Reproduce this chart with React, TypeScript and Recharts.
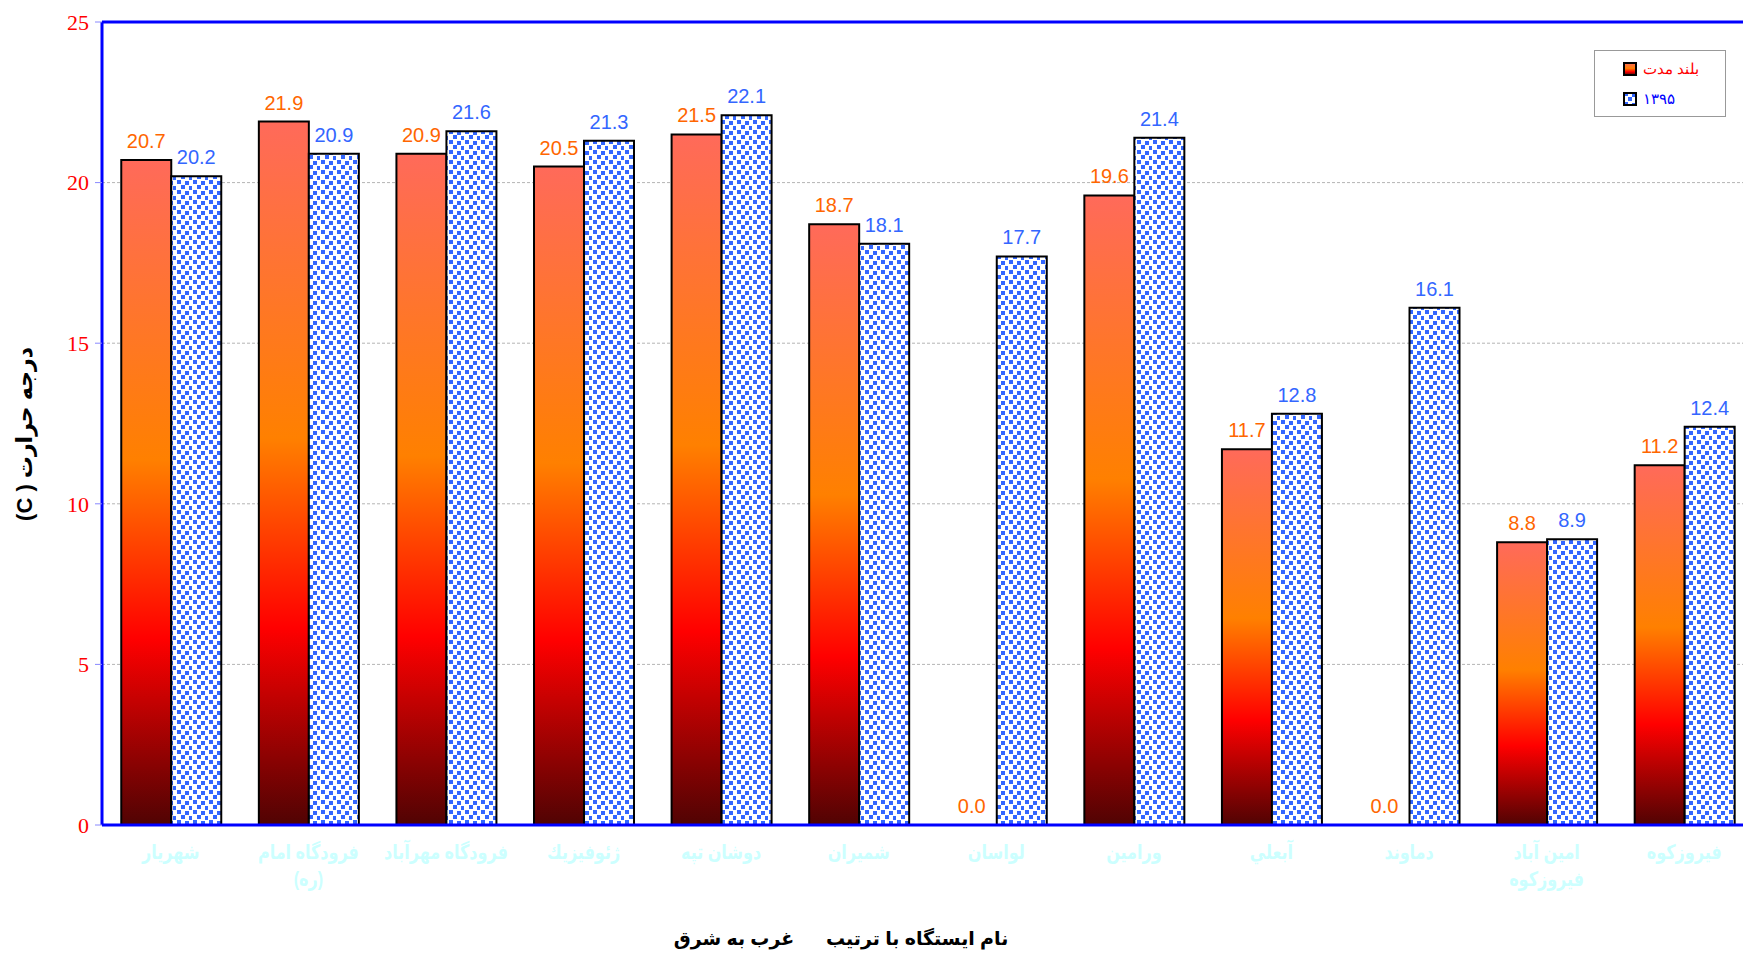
import { BarChart, Bar, XAxis, YAxis, CartesianGrid, ReferenceLine, LabelList, Cell } from "recharts";

const stations = [
    "شهريار",
    "فرودگاه امام\n(ره)",
    "فرودگاه مهرآباد",
    "ژئوفيزيك",
    "دوشان تپه",
    "شميران",
    "لواسان",
    "ورامين",
    "آبعلي",
    "دماوند",
    "امين آباد\nفيروزكوه",
    "فيروزكوه",
];
const longTerm = [20.7, 21.9, 20.9, 20.5, 21.5, 18.7, 0.0, 19.6, 11.7, 0.0, 8.8, 11.2];
const year1395 = [20.2, 20.9, 21.6, 21.3, 22.1, 18.1, 17.7, 21.4, 12.8, 16.1, 8.9, 12.4];
const yTicks = [0, 5, 10, 15, 20, 25];
const boundaryTicks = [0, 1, 2, 3, 4, 5, 6, 7, 8, 9, 10, 11, 12];

const data = stations.map((name, i) => ({
    name,
    longTerm: longTerm[i],
    y1395: year1395[i],
}));

const FONT = "Arial, 'Liberation Sans', 'DejaVu Sans', sans-serif";

const StationTick = (props: any) => {
    const { x, y, payload } = props;
    const lines = String(payload.value).split("\n");
    // the fallback arabic font is wide, squeeze it a bit
    return (
        <g transform={`translate(${x},${y}) scale(0.8,1)`}>
            {lines.map((line, i) => (
                <text
                    key={i}
                    x={0}
                    y={26 + i * 27}
                    textAnchor="middle"
                    fill="#CCFFFF"
                    fontSize={20}
                    fontWeight="bold"
                    fontFamily={FONT}
                >
                    {line}
                </text>
            ))}
        </g>
    );
};

// zero values still get a label, like the original
const zeroSize = (v: any) => (v === 0 ? 0.01 : 0);

const LegendBox = () => (
    <div
        style={{
            position: "absolute",
            left: 1594,
            top: 50,
            width: 132,
            height: 67,
            border: "1px solid #999",
            background: "#fff",
            boxSizing: "border-box",
            fontFamily: "'Liberation Serif', 'DejaVu Serif', serif",
            fontSize: 15,
        }}
    >
        <div style={{ display: "flex", alignItems: "center", height: 30, paddingLeft: 28, paddingTop: 3 }}>
            <svg width={14} height={14} style={{ marginRight: 6 }}>
                <rect x={1} y={1} width={12} height={12} fill="url(#barGrad)" stroke="#000" strokeWidth={2} />
            </svg>
            <span style={{ color: "#FF0000" }}>بلند مدت</span>
        </div>
        <div style={{ display: "flex", alignItems: "center", height: 30, paddingLeft: 28 }}>
            <svg width={14} height={14} style={{ marginRight: 6 }}>
                <rect x={1} y={1} width={12} height={12} fill="url(#bluePat)" stroke="#000" strokeWidth={2} />
            </svg>
            <span style={{ color: "#0000FF" }}>۱۳۹۵</span>
        </div>
    </div>
);

export default function App() {
    return (
        <div
            style={{
                position: "fixed",
                left: 0,
                top: 0,
                width: 1743,
                height: 954,
                overflow: "hidden",
                background: "#fff",
            }}
        >
            <BarChart
                width={1760}
                height={954}
                data={data}
                margin={{ top: 22, right: 7, left: 42, bottom: 69 }}
                barCategoryGap="14%"
                barGap={0}
            >
                <defs>
                    <linearGradient id="barGrad" x1="0" y1="0" x2="0" y2="1">
                        <stop offset="0" stopColor="#FF6A5A" />
                        <stop offset="0.45" stopColor="#FF8000" />
                        <stop offset="0.72" stopColor="#FF0000" />
                        <stop offset="1" stopColor="#500303" />
                    </linearGradient>
                    <pattern id="bluePat" patternUnits="userSpaceOnUse" width={16} height={10}>
                        <rect width={16} height={10} fill="#fff" />
                        <rect x={1} y={0} width={4} height={4} fill="#3366FF" />
                        <rect x={9} y={1} width={4} height={4} fill="#3366FF" />
                        <rect x={5} y={5} width={4} height={4} fill="#3366FF" />
                        <rect x={13} y={6} width={3} height={4} fill="#3366FF" />
                    </pattern>
                </defs>
                <CartesianGrid vertical={false} stroke="#b4b4b4" strokeDasharray="3 2" />
                <XAxis
                    xAxisId="edges"
                    type="number"
                    domain={[0, 12]}
                    ticks={boundaryTicks}
                    allowDataOverflow
                    height={0}
                    tick={false}
                    axisLine={false}
                    tickLine={{ stroke: "#8888FF" }}
                    tickSize={9}
                />
                <XAxis
                    dataKey="name"
                    height={60}
                    interval={0}
                    tick={<StationTick />}
                    tickLine={false}
                    axisLine={{ stroke: "#0000FF", strokeWidth: 3 }}
                />
                <YAxis
                    width={60}
                    domain={[0, 25]}
                    ticks={yTicks}
                    allowDataOverflow
                    axisLine={{ stroke: "#0000FF", strokeWidth: 3 }}
                    tickLine={{ stroke: "#8888FF" }}
                    tickSize={7}
                    tickMargin={6}
                    tick={{ fill: "#FF0000", fontSize: 22, fontFamily: "'Liberation Serif', 'Times New Roman', serif" }}
                    label={{
                        content: () => (
                            <text
                                transform="rotate(-90 26 434)"
                                x={26}
                                y={434}
                                textAnchor="middle"
                                dominantBaseline="middle"
                                direction="rtl"
                                fontSize={22}
                                fontWeight="bold"
                                fontFamily={FONT}
                                fill="#000"
                            >
                                درجه حرارت ( C)
                            </text>
                        ),
                    }}
                />
                <ReferenceLine y={25} stroke="#0000FF" strokeWidth={3} />
                <Bar
                    dataKey="longTerm"
                    name="بلند مدت"
                    fill="url(#barGrad)"
                    stroke="#000"
                    strokeWidth={2}
                    minPointSize={zeroSize}
                    isAnimationActive={false}
                >
                    {data.map((d, i) => (
                        <Cell key={`lt-${i}`} stroke={d.longTerm === 0 ? "none" : "#000"} />
                    ))}
                    <LabelList
                        dataKey="longTerm"
                        position="top"
                        offset={12}
                        formatter={(v: any) => Number(v).toFixed(1)}
                        fill="#FF6600"
                        fontSize={20}
                        fontFamily={FONT}
                    />
                </Bar>
                <Bar
                    dataKey="y1395"
                    name="۱۳۹۵"
                    fill="url(#bluePat)"
                    stroke="#000"
                    strokeWidth={2}
                    isAnimationActive={false}
                >
                    <LabelList
                        dataKey="y1395"
                        position="top"
                        offset={12}
                        formatter={(v: any) => Number(v).toFixed(1)}
                        fill="#3366FF"
                        fontSize={20}
                        fontFamily={FONT}
                    />
                </Bar>
                <text
                    x={841}
                    y={945}
                    textAnchor="middle"
                    fontSize={19}
                    fontWeight="bold"
                    fontFamily={FONT}
                    fill="#000"
                    style={{ whiteSpace: "pre" }}
                >
                    {"نام ایستگاه با ترتیب      غرب به شرق"}
                </text>
            </BarChart>
            <LegendBox />
        </div>
    );
}
